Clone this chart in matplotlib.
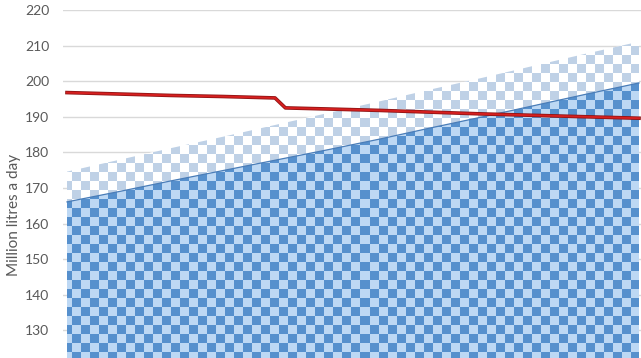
import numpy as np
import matplotlib
matplotlib.use("Agg")
import matplotlib.pyplot as plt
from matplotlib.colors import ListedColormap
import matplotlib.patheffects as pe

plt.rcParams['font.family'] = ['Lato', 'DejaVu Sans']

# ---- data ----
years = [2015, 2020, 2025, 2030, 2035, 2040, 2045, 2050, 2055, 2060, 2065, 2070]
demand_low = [166.1, 169.0, 172.0, 174.9, 177.8, 180.7, 183.7, 186.9, 190.0, 193.2, 196.4, 199.5]
demand_high = [174.6, 177.9, 181.2, 184.4, 187.7, 191.0, 194.3, 197.7, 201.0, 204.4, 207.8, 211.1]
supply_years = [2015, 2020, 2025, 2030, 2035, 2036, 2040, 2045, 2050, 2055, 2060, 2065, 2070]
supply = [196.8, 196.4, 196.0, 195.7, 195.3, 192.5, 192.2, 191.8, 191.3, 190.8, 190.4, 190.0, 189.6]
yticks = [120, 130, 140, 150, 160, 170, 180, 190, 200, 210, 220]
ylabel = "Million litres a day"

W, H = 641, 358
fig = plt.figure(figsize=(W / 100, H / 100), dpi=100)
ax_w_px = 596.8
ax_h_px = 356
ax = fig.add_axes([63 / W, -8 / H, ax_w_px / W, ax_h_px / H])

# checkerboard pattern in pixel space
hh, ww = int(ax_h_px), int(ax_w_px)
yy, xx = np.mgrid[0:hh, 0:ww]
checker = ((xx // 9 + yy // 9) % 2).astype(float)

# upper (light) area
poly_hi = ax.fill_between(years, 0, demand_high, facecolor='white',
                          edgecolor='none', zorder=2)
im_hi = ax.imshow(checker, extent=(0, 1, 0, 1), transform=ax.transAxes,
                  cmap=ListedColormap(['#ffffff', '#bfd1e6']),
                  interpolation='nearest', aspect='auto', zorder=2.1)
im_hi.set_clip_path(poly_hi.get_paths()[0], transform=ax.transData)

# lower (dark) area
poly_lo = ax.fill_between(years, 0, demand_low, facecolor='#bdd8f4',
                          edgecolor='none', zorder=3)
im_lo = ax.imshow(checker, extent=(0, 1, 0, 1), transform=ax.transAxes,
                  cmap=ListedColormap(['#bdd8f4', '#5690cd']),
                  interpolation='nearest', aspect='auto', zorder=3.1)
im_lo.set_clip_path(poly_lo.get_paths()[0], transform=ax.transData)
ax.plot(years, demand_low, color='#4a7db8', lw=0.9, zorder=3.2)

# red line
ax.plot(supply_years, supply, color='#d61f1f', lw=1.4, zorder=5,
        solid_joinstyle='round',
        path_effects=[pe.Stroke(linewidth=2.6, foreground='#8f1414'), pe.Normal()])

ax.set_xlim(2015 - 4 / 10.4, 2015 + (ax_w_px - 4) / 10.4)
ax.set_ylim(120, 220)
ax.set_yticks(yticks)
ax.set_xticks([])
ax.grid(axis='y', color='#d9d9d9', lw=1.0, zorder=0)
ax.set_axisbelow(True)
for s in ax.spines.values():
    s.set_visible(False)
ax.tick_params(axis='y', length=0, pad=10, labelsize=10, labelcolor='#595959')
ax.set_ylabel(ylabel, fontsize=11, color='#595959')
ax.yaxis.set_label_coords(-0.070, 0.424)

fig.savefig('out.png', dpi=100)
